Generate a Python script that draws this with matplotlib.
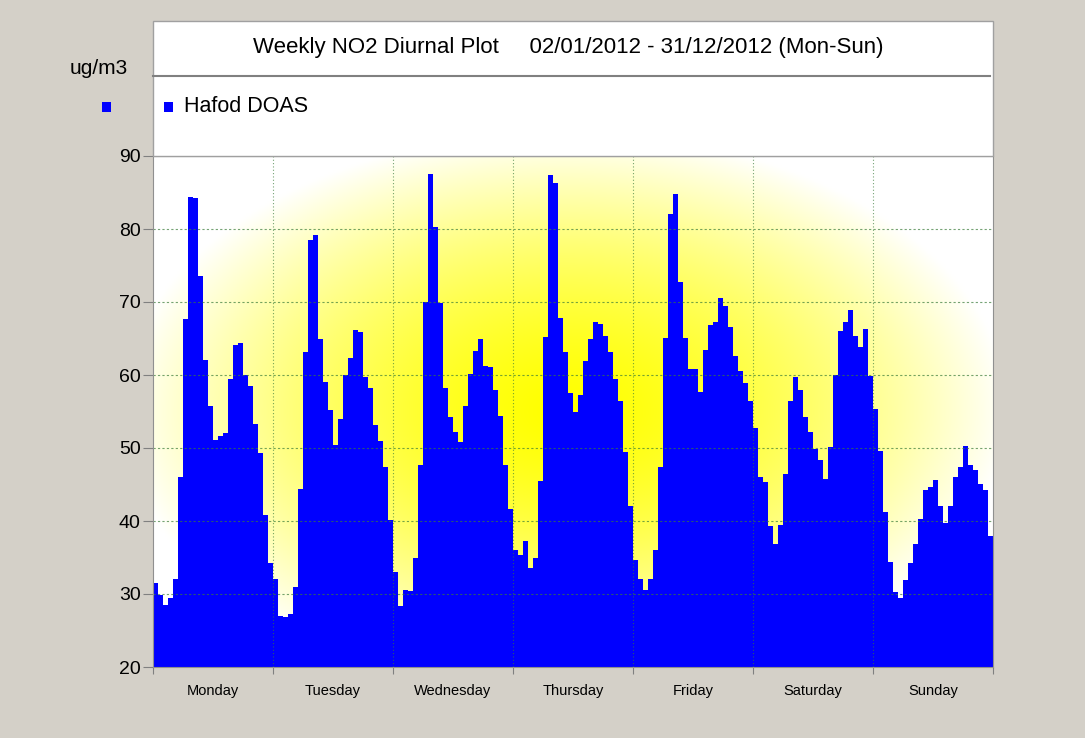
import numpy as np
import matplotlib.pyplot as plt
from matplotlib.patches import Rectangle

plt.rcParams['font.family'] = ['Liberation Sans', 'DejaVu Sans']

# hourly means, Monday 00h .. Sunday 23h
monday = [31.5, 29.8, 28.5, 29.5, 32.0, 46.0, 67.7, 84.4, 84.2, 73.5, 62.0, 55.8,
          51.1, 51.6, 52.0, 59.4, 64.1, 64.4, 60.0, 58.5, 53.3, 49.3, 40.8, 34.3]
tuesday = [32.0, 27.0, 26.9, 27.3, 31.0, 44.4, 63.1, 78.5, 79.2, 65.0, 59.0, 55.2,
           50.4, 54.0, 60.0, 62.3, 66.2, 65.9, 59.7, 58.2, 53.2, 50.9, 47.4, 40.1]
wednesday = [33.0, 28.3, 30.6, 30.4, 35.0, 47.7, 70.0, 87.5, 80.3, 69.8, 58.2, 54.2,
             52.2, 50.8, 55.8, 60.2, 63.3, 65.0, 61.2, 61.1, 57.9, 54.4, 47.7, 41.7]
thursday = [36.0, 35.4, 37.3, 33.5, 35.0, 45.5, 65.2, 87.4, 86.3, 67.8, 63.1, 57.6,
            54.9, 57.2, 61.9, 65.0, 67.3, 67.0, 65.4, 63.2, 59.4, 56.5, 49.4, 42.1]
friday = [34.7, 32.0, 30.6, 32.0, 36.0, 47.4, 65.1, 82.1, 84.8, 72.7, 65.1, 60.8,
          60.8, 57.7, 63.4, 66.9, 67.2, 70.5, 69.4, 66.6, 62.6, 60.6, 58.9, 56.5]
saturday = [52.8, 46.0, 45.3, 39.3, 36.8, 39.5, 46.5, 56.4, 59.7, 57.9, 54.2, 52.2,
            49.9, 48.3, 45.8, 50.2, 60.0, 66.0, 67.2, 68.9, 65.3, 63.8, 66.3, 59.9]
sunday = [55.4, 49.6, 41.2, 34.4, 30.3, 29.4, 31.9, 34.2, 36.9, 40.3, 44.2, 44.7,
          45.6, 42.1, 39.7, 42.1, 46.0, 47.4, 50.3, 47.7, 47.0, 45.1, 44.2, 37.9]

days = ['Monday', 'Tuesday', 'Wednesday', 'Thursday', 'Friday', 'Saturday', 'Sunday']
values = monday + tuesday + wednesday + thursday + friday + saturday + sunday
hours = np.arange(len(values))

bg = '#d4d0c8'
fig = plt.figure(figsize=(10.85, 7.38), dpi=100, facecolor=bg)

W, H = 1085.0, 738.0
# white chart box (header + legend strip)
fig.patches.append(Rectangle((153 / W, 1 - 156 / H), 840 / W, 135 / H,
                             transform=fig.transFigure, facecolor='white',
                             edgecolor='#a0a0a0', lw=1, zorder=0))
fig.add_artist(plt.Line2D([153 / W, 990 / W], [1 - 76 / H, 1 - 76 / H],
                          transform=fig.transFigure, color='#808080', lw=1.5))

ax = fig.add_axes([153 / W, 1 - 667 / H, 840 / W, 511 / H])

# yellow radial backdrop
gx, gy = np.meshgrid(np.linspace(0, 1, 400), np.linspace(0, 1, 300))
r = np.sqrt(((gx - 0.49) / 0.53) ** 2 + ((gy - 0.50) / 0.55) ** 2)
t = np.clip(r, 0, 1) ** 1.5
img = np.dstack([np.ones_like(t), np.ones_like(t), t])
ax.imshow(img, extent=[0, 168, 20, 90], origin='lower', aspect='auto', zorder=0)

ax.bar(hours, values, width=1.0, align='edge', color='#0000ff', lw=0, zorder=1)

ax.set_xlim(0, 168)
ax.set_ylim(20, 90)
ax.set_yticks(range(20, 91, 10))
ax.set_xticks(range(0, 169, 24))
ax.set_xticklabels([])
ax.set_xticks(np.arange(12, 168, 24), minor=True)
ax.set_xticklabels(days, minor=True, fontsize=10.5)
ax.tick_params(axis='x', which='minor', length=0, pad=12)
ax.tick_params(axis='x', which='major', length=5, color='#808080', direction='out')
ax.tick_params(axis='y', length=7, color='#808080', labelsize=14, pad=2)

for y in range(30, 90, 10):
    ax.axhline(y, color='#3a7d3a', lw=0.8, ls=(0, (2, 2)), alpha=0.7, zorder=2)
for x in range(24, 168, 24):
    ax.axvline(x, color='#3a7d3a', lw=0.8, ls=(0, (1, 2)), alpha=0.7, zorder=2)

for s in ax.spines.values():
    s.set_color('#909090')

fig.text(568 / W, 1 - 48 / H,
         'Weekly NO2 Diurnal Plot     02/01/2012 - 31/12/2012 (Mon-Sun)',
         ha='center', va='center', fontsize=16)
fig.text(128 / W, 1 - 68 / H, 'ug/m3', ha='right', va='center', fontsize=15)
fig.patches.append(Rectangle((102 / W, 1 - 112 / H), 9 / W, 10 / H,
                             transform=fig.transFigure, facecolor='#0000ff', lw=0))
fig.patches.append(Rectangle((164 / W, 1 - 112 / H), 9 / W, 10 / H,
                             transform=fig.transFigure, facecolor='#0000ff', lw=0))
fig.text(184 / W, 1 - 106 / H, 'Hafod DOAS', ha='left', va='center', fontsize=15.5)

fig.savefig('out.png', dpi=100, facecolor=bg)
